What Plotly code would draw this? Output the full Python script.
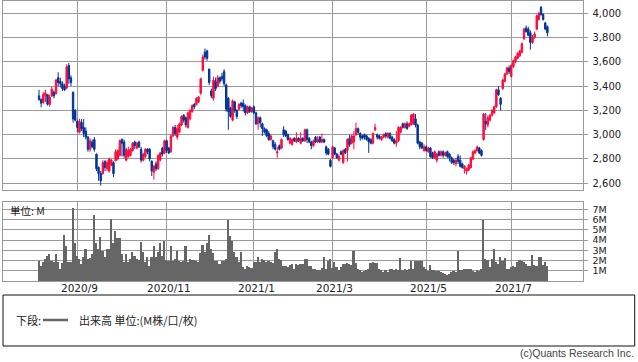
import plotly.graph_objects as go

# ---------------- data (daily, trading-day index) ----------------
opens = [
    3320, 3290, 3265, 3320, 3330, 3250, 3320, 3350, 3340, 3470,
    3440, 3420, 3400, 3385, 3570, 3470, 3350, 3200, 3110, 3020,
    3100, 3060, 3030, 2980, 2880, 2940, 2960, 2840, 2730, 2680,
    2680, 2780, 2720, 2700, 2750, 2770, 2785, 2800, 2830, 2960,
    2940, 2790, 2820, 2830, 2870, 2940, 2890, 2940, 2880, 2790,
    2820, 2880, 2880, 2780, 2690, 2760, 2720, 2790, 2890, 2850,
    2950, 2890, 2860, 2990, 3060, 2980, 3020, 3080, 3160, 3140,
    3060, 3130, 3190, 3250, 3250, 3270, 3340, 3530, 3680, 3690,
    3540, 3360, 3300, 3440, 3400, 3470, 3480, 3520, 3410, 3300,
    3220, 3120, 3270, 3200, 3210, 3260, 3260, 3240, 3180, 3230,
    3190, 3230, 3180, 3090, 3140, 3090, 3050, 3040, 3010, 2960,
    2950, 2920, 2850, 2910, 2890, 3040, 3030, 3000, 2930, 2920,
    2970, 2940, 2970, 2930, 2970, 2950, 3040, 2970, 2940, 2910,
    2980, 2940, 2980, 2940, 2960, 2900, 2880, 2790, 2810, 2890,
    2840, 2790, 2860, 2770, 2880, 2870, 2970, 2930, 2940, 3000,
    3050, 3010, 2990, 3000, 2990, 2970, 2960, 2930, 3040, 3000,
    2990, 2960, 2980, 3010, 2980, 3010, 2980, 2960, 2930, 2950,
    3020, 3090, 3060, 3090, 3070, 3080, 3090, 3130, 3080, 2940,
    2930, 2870, 2900, 2860, 2890, 2850, 2810, 2790, 2860, 2830,
    2860, 2830, 2860, 2840, 2810, 2790, 2760, 2820, 2790, 2760,
    2720, 2700, 2710, 2730, 2800, 2850, 2870, 2890, 2870, 2960,
    3110, 3080, 3120, 3160, 3180, 3230, 3370, 3300, 3380, 3440,
    3500, 3550, 3480, 3560, 3600, 3630, 3650, 3680, 3790, 3880,
    3870, 3840, 3760, 3800, 3870, 3950, 4050, 3990, 3920, 3890,
]
highs = [
    3370, 3300, 3350, 3370, 3335, 3330, 3395, 3365, 3460, 3515,
    3470, 3440, 3420, 3580, 3590, 3490, 3355, 3210, 3125, 3130,
    3130, 3130, 3060, 2990, 2970, 2960, 2980, 2845, 2740, 2700,
    2790, 2790, 2790, 2810, 2800, 2780, 2880, 2880, 2960, 2970,
    2960, 2890, 2900, 2890, 2940, 2950, 2940, 2950, 2900, 2850,
    2890, 2890, 2890, 2790, 2750, 2780, 2840, 2860, 2900, 2960,
    2960, 2900, 3000, 3070, 3080, 3080, 3100, 3160, 3170, 3150,
    3190, 3210, 3250, 3260, 3310, 3320, 3470, 3660, 3710, 3700,
    3545, 3380, 3480, 3470, 3490, 3480, 3510, 3540, 3420, 3310,
    3230, 3290, 3280, 3210, 3260, 3270, 3290, 3250, 3240, 3240,
    3230, 3240, 3190, 3150, 3150, 3100, 3060, 3050, 3030, 3000,
    2960, 2940, 2900, 2920, 2970, 3070, 3040, 3010, 2980, 2970,
    2980, 3020, 2980, 3020, 2980, 3050, 3050, 2980, 2950, 2960,
    2990, 2990, 2990, 3010, 2970, 2910, 2890, 2800, 2910, 2900,
    2850, 2840, 2870, 2880, 2890, 2970, 3000, 3000, 3030, 3100,
    3060, 3020, 3000, 3010, 3000, 2980, 2970, 3020, 3090, 3010,
    3000, 2990, 3010, 3020, 3020, 3020, 2990, 2970, 3030, 3070,
    3070, 3100, 3100, 3110, 3100, 3170, 3180, 3170, 3090, 2950,
    2940, 2920, 2910, 2900, 2900, 2860, 2870, 2850, 2870, 2870,
    2870, 2860, 2870, 2850, 2820, 2800, 2810, 2840, 2830, 2770,
    2750, 2730, 2760, 2820, 2870, 2880, 2910, 2900, 2880, 3180,
    3180, 3160, 3170, 3210, 3240, 3380, 3400, 3310, 3460, 3510,
    3560, 3570, 3580, 3620, 3650, 3680, 3700, 3760, 3880, 3900,
    3890, 3860, 3820, 3850, 3990, 4010, 4060, 4000, 3930, 3900,
]
lows = [
    3280, 3225, 3255, 3270, 3240, 3230, 3310, 3300, 3330, 3400,
    3390, 3360, 3360, 3375, 3420, 3400, 3100, 3110, 3020, 3010,
    3030, 2980, 2960, 2860, 2860, 2890, 2860, 2700, 2620, 2580,
    2670, 2700, 2700, 2690, 2740, 2650, 2780, 2790, 2820, 2820,
    2810, 2780, 2810, 2820, 2860, 2880, 2880, 2890, 2770, 2780,
    2810, 2840, 2780, 2660, 2630, 2700, 2710, 2780, 2820, 2840,
    2850, 2840, 2850, 2980, 2990, 2960, 3010, 3070, 3100, 3060,
    3050, 3120, 3180, 3210, 3240, 3260, 3330, 3520, 3620, 3610,
    3410, 3300, 3280, 3360, 3390, 3420, 3440, 3400, 3190, 3040,
    3140, 3110, 3180, 3130, 3200, 3220, 3190, 3160, 3170, 3180,
    3180, 3170, 3080, 3040, 3060, 2990, 3010, 2980, 2950, 2950,
    2880, 2870, 2810, 2870, 2880, 2980, 2980, 2950, 2920, 2910,
    2940, 2930, 2940, 2920, 2940, 2940, 2930, 2930, 2880, 2900,
    2930, 2930, 2930, 2930, 2930, 2830, 2830, 2730, 2800, 2830,
    2800, 2780, 2830, 2760, 2840, 2780, 2900, 2920, 2880, 2990,
    3000, 2950, 2960, 2960, 2950, 2850, 2920, 2920, 3030, 2960,
    2960, 2950, 2970, 2970, 2970, 2960, 2940, 2920, 2900, 2940,
    3010, 3050, 3050, 3040, 3060, 3080, 3080, 3060, 2920, 2880,
    2880, 2860, 2860, 2850, 2810, 2800, 2800, 2770, 2820, 2820,
    2810, 2820, 2810, 2780, 2760, 2750, 2740, 2760, 2730, 2720,
    2680, 2670, 2700, 2720, 2790, 2840, 2860, 2840, 2820, 2950,
    3040, 3060, 3110, 3150, 3170, 3220, 3320, 3200, 3370, 3430,
    3490, 3500, 3470, 3550, 3590, 3620, 3640, 3670, 3780, 3840,
    3810, 3700, 3750, 3790, 3860, 3940, 3980, 3940, 3860, 3810,
]
closes = [
    3290, 3260, 3330, 3345, 3250, 3310, 3375, 3320, 3450, 3430,
    3420, 3380, 3370, 3560, 3460, 3430, 3130, 3120, 3060, 3110,
    3050, 3010, 2980, 2880, 2950, 2900, 2880, 2720, 2680, 2620,
    2770, 2730, 2770, 2800, 2790, 2680, 2860, 2870, 2950, 2930,
    2830, 2880, 2870, 2880, 2930, 2910, 2930, 2900, 2790, 2840,
    2880, 2860, 2800, 2700, 2740, 2720, 2830, 2850, 2840, 2950,
    2870, 2850, 2990, 3060, 3010, 3050, 3090, 3150, 3120, 3080,
    3180, 3200, 3240, 3230, 3300, 3310, 3460, 3640, 3640, 3630,
    3430, 3320, 3450, 3380, 3470, 3440, 3460, 3420, 3210, 3190,
    3150, 3280, 3200, 3150, 3250, 3240, 3230, 3180, 3230, 3190,
    3220, 3180, 3090, 3140, 3100, 3050, 3020, 2990, 2960, 2990,
    2900, 2880, 2860, 2880, 2960, 3000, 2990, 2960, 2970, 2960,
    2950, 2970, 2950, 2970, 2950, 3040, 2960, 2940, 2910, 2950,
    2940, 2960, 2940, 2960, 2940, 2850, 2840, 2740, 2900, 2840,
    2810, 2820, 2840, 2870, 2850, 2960, 2920, 2990, 2990, 3050,
    3020, 2980, 2970, 2980, 2960, 2940, 2930, 3010, 3060, 2980,
    2970, 2980, 3000, 2990, 3010, 2970, 2950, 2930, 2950, 3060,
    3060, 3060, 3090, 3050, 3090, 3160, 3170, 3080, 2930, 2900,
    2890, 2900, 2870, 2890, 2820, 2810, 2860, 2840, 2830, 2860,
    2830, 2850, 2820, 2810, 2770, 2770, 2790, 2780, 2740, 2730,
    2740, 2720, 2750, 2810, 2860, 2870, 2900, 2850, 2830, 3170,
    3090, 3140, 3160, 3200, 3230, 3370, 3330, 3250, 3450, 3500,
    3550, 3520, 3570, 3610, 3640, 3670, 3690, 3750, 3870, 3850,
    3820, 3760, 3800, 3830, 3980, 4000, 3990, 3950, 3870, 3840,
]
volume_m = [
    2.0, 1.5, 1.9, 2.2, 2.5, 2.7, 2.0, 1.9, 2.7, 1.9,
    1.2, 1.8, 4.5, 3.4, 1.9, 1.9, 7.2, 3.7, 2.5, 2.2,
    1.7, 2.4, 3.2, 2.2, 2.3, 2.7, 6.5, 3.7, 3.2, 4.3,
    3.0, 2.4, 3.2, 3.2, 6.1, 3.7, 4.9, 4.2, 4.2, 2.7,
    1.9, 2.7, 1.9, 2.2, 2.9, 2.5, 2.2, 2.1, 3.8, 2.9,
    1.9, 2.4, 1.5, 2.4, 3.4, 2.4, 2.9, 3.7, 2.5, 3.9,
    2.1, 2.0, 3.4, 2.0, 2.2, 3.0, 2.0, 1.9, 2.0, 3.4,
    1.9, 2.2, 2.1, 2.1, 2.0, 1.9, 2.8, 3.5, 2.9, 3.7,
    4.5, 3.2, 2.8, 2.0, 2.0, 1.7, 2.0, 2.0, 2.2, 6.0,
    4.4, 3.9, 2.9, 2.4, 1.9, 2.9, 1.4, 1.2, 1.5, 1.4,
    1.3, 1.9, 1.9, 2.4, 1.9, 2.2, 2.1, 1.9, 2.0, 1.9,
    1.8, 2.9, 3.2, 2.2, 2.1, 1.5, 1.5, 1.4, 1.6, 1.7,
    1.2, 1.7, 1.6, 1.7, 1.7, 2.2, 2.2, 1.5, 1.5, 1.2,
    1.2, 1.1, 1.1, 1.3, 2.4, 1.2, 2.0, 2.2, 1.3, 1.9,
    1.4, 1.1, 1.4, 1.7, 1.7, 1.8, 1.7, 1.6, 3.0, 1.8,
    1.2, 1.1, 0.9, 1.0, 1.1, 1.2, 1.8, 1.9, 1.8, 1.8,
    1.2, 1.1, 0.9, 1.1, 0.9, 1.2, 1.2, 1.1, 1.2, 1.1,
    2.3, 1.1, 1.2, 1.1, 1.2, 2.0, 1.2, 2.0, 2.0, 2.0,
    2.0, 1.4, 1.2, 1.0, 1.6, 1.1, 1.1, 1.0, 1.0, 0.9,
    0.8, 0.7, 0.6, 0.7, 0.9, 1.0, 0.9, 3.0, 1.1, 1.1,
    1.2, 1.2, 1.2, 1.2, 1.0, 0.9, 1.1, 1.0, 1.2, 6.0,
    2.2, 2.1, 1.4, 2.2, 3.2, 1.9, 1.7, 2.4, 2.0, 2.3,
    1.2, 1.2, 1.4, 1.5, 1.4, 1.9, 2.1, 2.0, 1.9, 1.7,
    1.5, 1.5, 2.6, 1.6, 1.5, 2.4, 2.4, 1.6, 1.9, 1.5,
]
month_tick_index = [18, 60, 101, 138, 182, 222]
month_tick_labels = ["2020/9", "2020/11", "2021/1", "2021/3", "2021/5", "2021/7"]
price_ticks = [2600, 2800, 3000, 3200, 3400, 3600, 3800, 4000]
volume_ticks = [1, 2, 3, 4, 5, 6, 7]
volume_tick_labels = ["1M", "2M", "3M", "4M", "5M", "6M", "7M"]

# ---------------- styling ----------------
W, H = 638, 362
RED = "#FF0A3C"
BLUE = "#003399"
GRID = "#9A9A9A"
VOLC = "#666666"
TXT = "#222222"
FONT = "DejaVu Sans"
JFONT = "Noto Sans CJK JP"

def px(xp):
    return xp / W

def py(yp):
    return 1 - yp / H

x = list(range(len(closes)))

fig = go.Figure()
fig.add_trace(go.Candlestick(
    x=x, open=opens, high=highs, low=lows, close=closes,
    increasing=dict(line=dict(color=RED, width=1), fillcolor=RED),
    decreasing=dict(line=dict(color=BLUE, width=1), fillcolor=BLUE),
    whiskerwidth=0, xaxis="x", yaxis="y", showlegend=False, hoverinfo="skip",
))
fig.add_trace(go.Bar(
    x=x, y=volume_m, marker=dict(color=VOLC, line=dict(width=0)),
    xaxis="x2", yaxis="y2", showlegend=False, hoverinfo="skip",
))

xdom = [px(3.3), px(582.5)]
common_x = dict(
    domain=xdom, range=[-16.8, 255.5], tickvals=month_tick_index,
    showgrid=True, gridcolor=GRID, gridwidth=1, showline=True, mirror=True,
    linecolor=GRID, linewidth=1, zeroline=False, ticks="", showticklabels=False,
)
common_y = dict(
    side="right", showgrid=True, gridcolor=GRID, gridwidth=1, showline=True,
    mirror=True, linecolor=GRID, linewidth=1, zeroline=False, ticks="outside",
    ticklen=4, tickcolor=GRID, ticklabelstandoff=3,
)

fig.update_layout(
    width=W, height=H, margin=dict(l=0, r=0, t=0, b=0),
    paper_bgcolor="white", plot_bgcolor="white",
    bargap=0, boxgap=0.05, showlegend=False,
    font=dict(family=FONT, color=TXT),
    xaxis=dict(**common_x, anchor="y", rangeslider=dict(visible=False)),
    yaxis=dict(**common_y, anchor="x", domain=[py(190.3), py(0.7)],
               range=[2542, 4104], tickvals=price_ticks, tickformat=",",
               tickfont=dict(family=FONT, size=10, color=TXT)),
    xaxis2=dict(**common_x, anchor="y2"),
    yaxis2=dict(**common_y, anchor="x2", domain=[py(281), py(201.7)],
                range=[0, 7.74], tickvals=volume_ticks, ticktext=volume_tick_labels,
                tickfont=dict(family=FONT, size=9.5, color=TXT)),
)

# month labels under the volume panel, placed at the month gridlines
for idx, lab in zip(month_tick_index, month_tick_labels):
    fig.add_annotation(text=lab, xref="x2", yref="paper", x=idx + 1, y=py(288),
                       xanchor="center", yanchor="middle", showarrow=False,
                       font=dict(family=FONT, size=10.5, color=TXT))

# legend box and texts
fig.add_shape(type="rect", xref="paper", yref="paper",
              x0=px(3), x1=px(634.7), y0=py(346), y1=py(295),
              line=dict(color="#111111", width=1), fillcolor="rgba(0,0,0,0)")
fig.add_shape(type="line", xref="paper", yref="paper",
              x0=px(43), x1=px(68), y0=py(320), y1=py(320),
              line=dict(color=VOLC, width=2.5))
fig.add_annotation(text="下段:", xref="paper", yref="paper", x=px(14), y=py(320),
                   xanchor="left", yanchor="middle", showarrow=False,
                   font=dict(family=JFONT, size=11, color=TXT))
fig.add_annotation(text="出来高 単位:(M株/口/枚)", xref="paper", yref="paper",
                   x=px(77), y=py(320), xanchor="left", yanchor="middle",
                   showarrow=False, font=dict(family=JFONT, size=11, color=TXT))
fig.add_annotation(text="単位: M", xref="paper", yref="paper", x=px(8), y=py(210),
                   xanchor="left", yanchor="middle", showarrow=False,
                   font=dict(family=JFONT, size=10.5, color=TXT))
fig.add_annotation(text="(c)Quants Research Inc.", xref="paper", yref="paper",
                   x=px(636), y=py(353), xanchor="right", yanchor="middle",
                   showarrow=False, font=dict(family="Liberation Sans", size=10.5, color="#444444"))

fig.write_html("out.html")
